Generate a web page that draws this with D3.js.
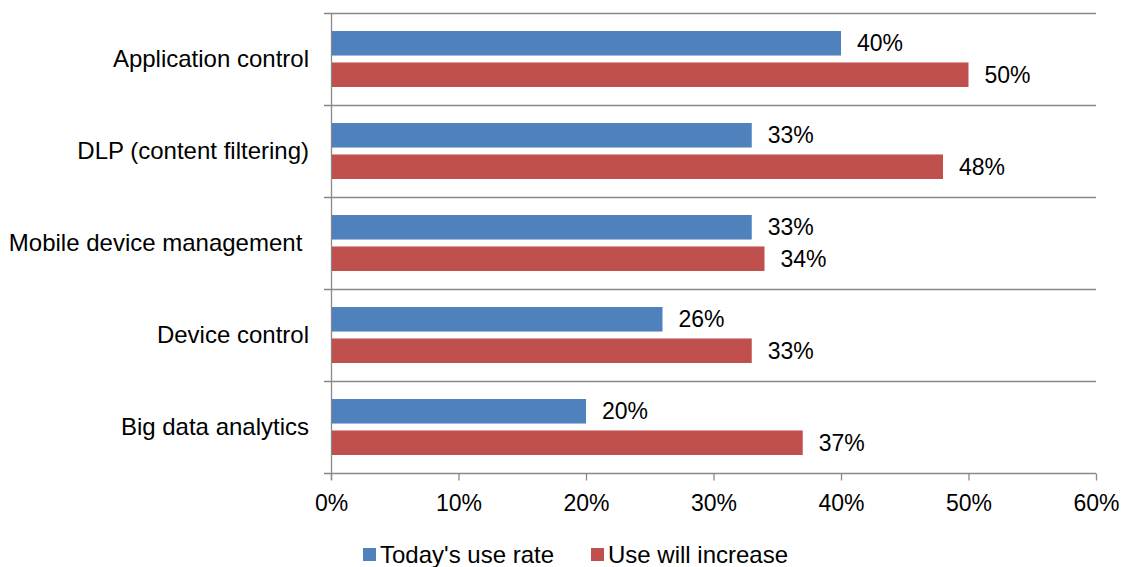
<!DOCTYPE html>
<html>
<head>
<meta charset="utf-8">
<script src="https://cdn.jsdelivr.net/npm/d3@7"></script>
<style>
  body { margin: 0; background: #fff; }
  text { font-family: "Liberation Sans", Arial, sans-serif; fill: #000; }
</style>
</head>
<body>
<div id="chart"></div>
<script>
// categories top to bottom
const categories = ["Application control", "DLP (content filtering)", "Mobile device management ", "Device control", "Big data analytics"]
const seriesNames = ["Today's use rate", "Use will increase"]
const todayRate = [40, 33, 33, 26, 20]
const willIncrease = [50, 48, 34, 33, 37]
const xTicks = [0, 10, 20, 30, 40, 50, 60]

const colors = ["#4F81BD", "#C0504D"]
const gridColor = "#898989"
const fontSize = "24px"

const width = 1124
const height = 567
const plotLeft = 331, plotRight = 1096, plotTop = 13, plotBottom = 473

const svg = d3.select("#chart").append("svg")
    .attr("width", width)
    .attr("height", height)

const x = d3.scaleLinear().domain([0, 60]).range([plotLeft, plotRight])
const y = d3.scaleBand().domain(categories).range([plotTop, plotBottom])
// two bars inside each band
const inner = d3.scaleBand().domain([0, 1]).range([18, y.bandwidth() - 18]).paddingInner(0.22)

// horizontal lines at category boundaries
const bounds = categories.map(c => y(c)).concat([plotBottom])
svg.append("g").selectAll("line").data(bounds).join("line")
    .attr("x1", plotLeft - 7).attr("x2", plotRight)
    .attr("y1", d => d + 0.5).attr("y2", d => d + 0.5)
    .attr("stroke", gridColor).attr("stroke-width", 1.3)

// y axis line
svg.append("line")
    .attr("x1", plotLeft + 0.5).attr("x2", plotLeft + 0.5)
    .attr("y1", plotTop).attr("y2", plotBottom + 7)
    .attr("stroke", gridColor).attr("stroke-width", 1.3)

// x axis ticks + labels
const xAxis = svg.append("g")
    .attr("transform", `translate(0, ${plotBottom + 0.5})`)
    .call(d3.axisBottom(x).tickValues(xTicks).tickSize(7).tickSizeOuter(0).tickPadding(14).tickFormat(d => d + "%"))
xAxis.select(".domain").remove()
xAxis.selectAll(".tick line").attr("stroke", gridColor).attr("stroke-width", 1.3)
xAxis.selectAll(".tick text").style("font-size", "23px").style("font-family", "'Liberation Sans', Arial, sans-serif").attr("fill", "#000")

// bars
const rows = categories.map((c, i) => ({ cat: c, vals: [todayRate[i], willIncrease[i]] }))
const group = svg.append("g").selectAll("g").data(rows).join("g")
    .attr("transform", d => `translate(0, ${y(d.cat)})`)

group.selectAll("rect").data(d => d.vals.map((v, k) => ({ v, k }))).join("rect")
    .attr("x", plotLeft + 1)
    .attr("y", d => inner(d.k))
    .attr("width", d => x(d.v) - plotLeft - 1)
    .attr("height", inner.bandwidth())
    .attr("fill", d => colors[d.k])

group.selectAll("text.val").data(d => d.vals.map((v, k) => ({ v, k }))).join("text")
    .attr("class", "val")
    .attr("x", d => x(d.v) + 16)
    .attr("y", d => inner(d.k) + inner.bandwidth() / 2)
    .attr("dy", "0.35em")
    .style("font-size", "23px")
    .text(d => d.v + "%")

// category labels
svg.append("g").selectAll("text").data(categories).join("text")
    .attr("x", 309)
    .attr("y", d => y(d) + y.bandwidth() / 2)
    .attr("dy", "0.35em")
    .attr("text-anchor", "end")
    .style("font-size", fontSize)
    .style("white-space", "pre")
    .text(d => d)

// legend
const legendX = [363, 591]
const legend = svg.append("g").selectAll("g").data(seriesNames).join("g")
    .attr("transform", (d, i) => `translate(${legendX[i]}, 548)`)
legend.append("rect").attr("width", 13).attr("height", 13).attr("fill", (d, i) => colors[i])
legend.append("text")
    .attr("x", 17).attr("y", 7).attr("dy", "0.35em")
    .style("font-size", fontSize)
    .text(d => d)
</script>
</body>
</html>
